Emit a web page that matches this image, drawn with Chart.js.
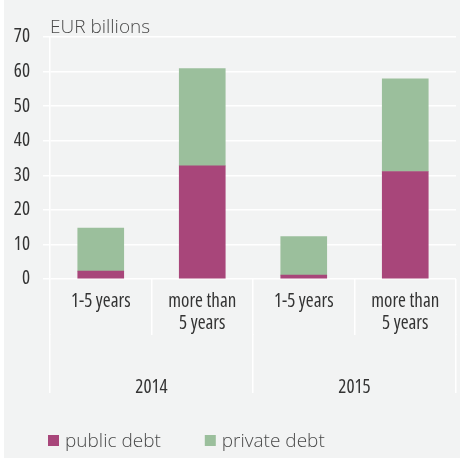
<!DOCTYPE html>
<html>
<head>
<meta charset="utf-8">
<script src="https://cdn.jsdelivr.net/npm/chart.js@4.4.1/dist/chart.umd.min.js"></script>
<style>
  body { margin: 0; background: #ffffff; }
  #wrap { position: absolute; left: 4px; top: 0; width: 456px; height: 458px; background: #f2f3f3; }
</style>
</head>
<body>
<div id="wrap"><canvas id="debtChart" width="456" height="458"></canvas></div>
<script>
const maturities = [['1-5 years'], ['more than', '5 years'], ['1-5 years'], ['more than', '5 years']];
const years = ['2014', '2015'];
const publicDebt = [2.3, 32.7, 1.1, 31.1];
const privateDebt = [12.4, 28.2, 11.2, 26.8];
const yTicks = [0, 10, 20, 30, 40, 50, 60, 70];

// condensed cut of Open Sans for the axis numbers and labels
const narrowFont = { family: '"Open Sans", sans-serif', weight: 'condensed', size: 19 };
const lightFont = '300 19px "Open Sans", sans-serif';
const textGrey = '#4a4a4a';

// unit caption over the plot, aligned with the y axis line
const unitLabel = {
  id: 'unitLabel',
  afterDraw(chart) {
    const ctx = chart.ctx;
    ctx.save();
    ctx.font = lightFont;
    ctx.fillStyle = textGrey;
    ctx.textAlign = 'left';
    ctx.textBaseline = 'alphabetic';
    ctx.fillText('EUR billions', chart.chartArea.left, 33);
    ctx.restore();
  }
};

// one-row legend along the bottom edge, built from the datasets
const legendRow = {
  id: 'legendRow',
  afterDraw(chart) {
    const ctx = chart.ctx;
    ctx.save();
    ctx.font = lightFont;
    ctx.textAlign = 'left';
    ctx.textBaseline = 'alphabetic';
    let x = 44;
    chart.data.datasets.forEach(ds => {
      ctx.fillStyle = ds.backgroundColor;
      ctx.fillRect(x, 435, 11, 11);
      ctx.fillStyle = textGrey;
      ctx.fillText(ds.label, x + 17, 447);
      x += 17 + ctx.measureText(ds.label).width + 44;
    });
    ctx.restore();
  }
};

const ctx = document.getElementById('debtChart').getContext('2d');
new Chart(ctx, {
  type: 'bar',
  data: {
    labels: maturities,
    datasets: [
      { label: 'public debt', data: publicDebt, backgroundColor: '#a8467a', borderWidth: 0, barThickness: 46 },
      { label: 'private debt', data: privateDebt, backgroundColor: '#9bbf9c', borderWidth: 0, barThickness: 46 }
    ]
  },
  options: {
    responsive: false,
    animation: false,
    layout: { padding: { top: 37, right: 4, left: 0, bottom: 60 } },
    plugins: {
      tooltip: { enabled: false },
      legend: { display: false }
    },
    scales: {
      x: {
        stacked: true,
        weight: 0,
        grid: { offset: true, drawOnChartArea: false, color: '#ffffff', lineWidth: 1.5, tickLength: 56 },
        border: { display: false },
        ticks: { color: '#333333', padding: -44, maxRotation: 0, font: { ...narrowFont, lineHeight: 1.158 } },
        afterFit(axis) { axis.height = 55; }
      },
      xYear: {
        type: 'category',
        axis: 'x',
        position: 'bottom',
        labels: years,
        offset: true,
        weight: 1,
        grid: { offset: true, drawOnChartArea: false, color: '#ffffff', lineWidth: 1.5, tickLength: 59 },
        border: { display: false },
        ticks: { color: '#333333', padding: -16.5, font: narrowFont },
        afterFit(axis) { axis.height = 64; }
      },
      y: {
        stacked: true,
        min: 0,
        max: 70,
        afterBuildTicks(axis) { axis.ticks = yTicks.map(v => ({ value: v })); },
        grid: { color: '#ffffff', lineWidth: 1.5, tickLength: 7 },
        border: { color: '#ffffff', width: 1.5 },
        ticks: { color: '#333333', padding: 13, font: narrowFont },
        afterFit(axis) { axis.width = 46; }
      }
    }
  },
  plugins: [unitLabel, legendRow]
});
</script>
</body>
</html>
